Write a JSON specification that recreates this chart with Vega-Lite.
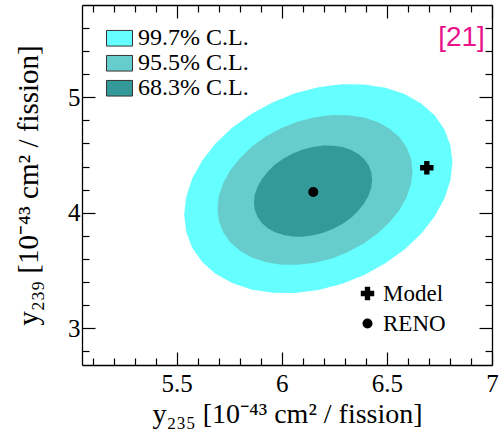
{
  "$schema": "https://vega.github.io/schema/vega-lite/v6.json",
  "width": 410,
  "height": 360,
  "autosize": "none",
  "padding": {"left": 82, "top": 5, "right": 12, "bottom": 74},
  "background": "white",
  "config": {
    "view": {"stroke": null},
    "font": "Liberation Serif",
    "axis": {"labelFont": "Liberation Serif", "titleFont": "Liberation Serif"},
    "legend": {"labelFont": "Liberation Serif"}
  },
  "datasets": {
    "ellipses": [
      {"cl": "99.7% C.L.", "x": 6.812, "lo": 4.436, "hi": 4.436},
      {"cl": "99.7% C.L.", "x": 6.802, "lo": 4.280, "hi": 4.585},
      {"cl": "99.7% C.L.", "x": 6.774, "lo": 4.122, "hi": 4.722},
      {"cl": "99.7% C.L.", "x": 6.727, "lo": 3.966, "hi": 4.844},
      {"cl": "99.7% C.L.", "x": 6.663, "lo": 3.818, "hi": 4.947},
      {"cl": "99.7% C.L.", "x": 6.584, "lo": 3.682, "hi": 5.028},
      {"cl": "99.7% C.L.", "x": 6.493, "lo": 3.562, "hi": 5.083},
      {"cl": "99.7% C.L.", "x": 6.392, "lo": 3.461, "hi": 5.112},
      {"cl": "99.7% C.L.", "x": 6.285, "lo": 3.383, "hi": 5.113},
      {"cl": "99.7% C.L.", "x": 6.174, "lo": 3.331, "hi": 5.087},
      {"cl": "99.7% C.L.", "x": 6.063, "lo": 3.305, "hi": 5.035},
      {"cl": "99.7% C.L.", "x": 5.956, "lo": 3.306, "hi": 4.956},
      {"cl": "99.7% C.L.", "x": 5.855, "lo": 3.335, "hi": 4.856},
      {"cl": "99.7% C.L.", "x": 5.764, "lo": 3.390, "hi": 4.736},
      {"cl": "99.7% C.L.", "x": 5.685, "lo": 3.471, "hi": 4.600},
      {"cl": "99.7% C.L.", "x": 5.622, "lo": 3.573, "hi": 4.452},
      {"cl": "99.7% C.L.", "x": 5.574, "lo": 3.696, "hi": 4.296},
      {"cl": "99.7% C.L.", "x": 5.546, "lo": 3.833, "hi": 4.138},
      {"cl": "99.7% C.L.", "x": 5.536, "lo": 3.982, "hi": 3.982},
      {"cl": "95.5% C.L.", "x": 6.622, "lo": 4.360, "hi": 4.360},
      {"cl": "95.5% C.L.", "x": 6.615, "lo": 4.248, "hi": 4.467},
      {"cl": "95.5% C.L.", "x": 6.594, "lo": 4.134, "hi": 4.566},
      {"cl": "95.5% C.L.", "x": 6.560, "lo": 4.023, "hi": 4.653},
      {"cl": "95.5% C.L.", "x": 6.513, "lo": 3.917, "hi": 4.727},
      {"cl": "95.5% C.L.", "x": 6.456, "lo": 3.819, "hi": 4.785},
      {"cl": "95.5% C.L.", "x": 6.390, "lo": 3.732, "hi": 4.824},
      {"cl": "95.5% C.L.", "x": 6.317, "lo": 3.661, "hi": 4.845},
      {"cl": "95.5% C.L.", "x": 6.239, "lo": 3.604, "hi": 4.846},
      {"cl": "95.5% C.L.", "x": 6.158, "lo": 3.567, "hi": 4.827},
      {"cl": "95.5% C.L.", "x": 6.077, "lo": 3.548, "hi": 4.790},
      {"cl": "95.5% C.L.", "x": 5.999, "lo": 3.549, "hi": 4.733},
      {"cl": "95.5% C.L.", "x": 5.926, "lo": 3.570, "hi": 4.662},
      {"cl": "95.5% C.L.", "x": 5.860, "lo": 3.609, "hi": 4.575},
      {"cl": "95.5% C.L.", "x": 5.803, "lo": 3.667, "hi": 4.477},
      {"cl": "95.5% C.L.", "x": 5.756, "lo": 3.741, "hi": 4.371},
      {"cl": "95.5% C.L.", "x": 5.722, "lo": 3.828, "hi": 4.260},
      {"cl": "95.5% C.L.", "x": 5.701, "lo": 3.928, "hi": 4.146},
      {"cl": "95.5% C.L.", "x": 5.694, "lo": 4.034, "hi": 4.034},
      {"cl": "68.3% C.L.", "x": 6.430, "lo": 4.286, "hi": 4.286},
      {"cl": "68.3% C.L.", "x": 6.426, "lo": 4.218, "hi": 4.351},
      {"cl": "68.3% C.L.", "x": 6.413, "lo": 4.149, "hi": 4.411},
      {"cl": "68.3% C.L.", "x": 6.392, "lo": 4.081, "hi": 4.465},
      {"cl": "68.3% C.L.", "x": 6.364, "lo": 4.017, "hi": 4.509},
      {"cl": "68.3% C.L.", "x": 6.330, "lo": 3.957, "hi": 4.544},
      {"cl": "68.3% C.L.", "x": 6.290, "lo": 3.905, "hi": 4.569},
      {"cl": "68.3% C.L.", "x": 6.245, "lo": 3.861, "hi": 4.581},
      {"cl": "68.3% C.L.", "x": 6.198, "lo": 3.826, "hi": 4.582},
      {"cl": "68.3% C.L.", "x": 6.149, "lo": 3.804, "hi": 4.570},
      {"cl": "68.3% C.L.", "x": 6.100, "lo": 3.792, "hi": 4.548},
      {"cl": "68.3% C.L.", "x": 6.053, "lo": 3.793, "hi": 4.513},
      {"cl": "68.3% C.L.", "x": 6.009, "lo": 3.806, "hi": 4.470},
      {"cl": "68.3% C.L.", "x": 5.968, "lo": 3.830, "hi": 4.418},
      {"cl": "68.3% C.L.", "x": 5.934, "lo": 3.865, "hi": 4.357},
      {"cl": "68.3% C.L.", "x": 5.906, "lo": 3.909, "hi": 4.293},
      {"cl": "68.3% C.L.", "x": 5.885, "lo": 3.963, "hi": 4.225},
      {"cl": "68.3% C.L.", "x": 5.872, "lo": 4.023, "hi": 4.157},
      {"cl": "68.3% C.L.", "x": 5.868, "lo": 4.088, "hi": 4.088}
    ],
    "points": [
      {"name": "Model", "x": 6.69, "y": 4.39},
      {"name": "RENO", "x": 6.15, "y": 4.18}
    ],
    "ref": [
      {"label": "[21]", "x": 6.966, "y": 5.445}
    ]
  },
  "layer": [
    {
      "data": {"name": "ellipses"},
      "transform": [{"filter": "datum.cl == '99.7% C.L.'"}],
      "mark": {"type": "area", "orient": "vertical", "opacity": 1},
      "encoding": {
        "x": {
          "field": "x", "type": "quantitative",
          "scale": {"domain": [5.05, 7.0], "nice": false, "zero": false},
          "axis": {
            "orient": "bottom",
            "values": [5.1, 5.2, 5.3, 5.4, 5.5, 5.6, 5.7, 5.8, 5.9, 6.0, 6.1, 6.2, 6.3, 6.4, 6.5, 6.6, 6.7, 6.8, 6.9, 7.0],
            "labelExpr": "abs(datum.value*2 - round(datum.value*2)) < 0.01 ? format(datum.value, '~g') : ''",
            "labelFont": "Liberation Serif", "labelFontSize": 25, "labelColor": "black",
            "labelFlush": false, "labelOverlap": false, "labelBound": false, "labelPadding": 19,
            "tickSize": {"condition": {"test": "abs(datum.value*2 - round(datum.value*2)) < 0.01", "value": -13}, "value": -7},
            "tickColor": "black", "tickWidth": 1.2,
            "domainColor": "black", "domainWidth": 1.3, "grid": false,
            "title": "y₂₃₅ [10⁻⁴³ cm² / fission]",
            "titleFont": "Liberation Serif", "titleFontSize": 28, "titleFontWeight": "normal", "titleColor": "black",
            "titleX": 205, "titleY": 57, "titleBaseline": "alphabetic", "titleAlign": "center"
          }
        },
        "y": {
          "field": "lo", "type": "quantitative",
          "scale": {"domain": [2.68, 5.8], "nice": false, "zero": false},
          "axis": {
            "orient": "left",
            "values": [2.8, 3.0, 3.2, 3.4, 3.6, 3.8, 4.0, 4.2, 4.4, 4.6, 4.8, 5.0, 5.2, 5.4, 5.6],
            "labelExpr": "abs(datum.value - round(datum.value)) < 0.01 ? format(datum.value, '~g') : ''",
            "labelFont": "Liberation Serif", "labelFontSize": 25, "labelColor": "black",
            "labelFlush": false, "labelOverlap": false, "labelBound": false, "labelPadding": 15,
            "tickSize": {"condition": {"test": "abs(datum.value - round(datum.value)) < 0.01", "value": -13}, "value": -7},
            "tickColor": "black", "tickWidth": 1.2,
            "domainColor": "black", "domainWidth": 1.3, "grid": false,
            "title": "y₂₃₉ [10⁻⁴³ cm² / fission]",
            "titleFont": "Liberation Serif", "titleFontSize": 29, "titleFontWeight": "normal", "titleColor": "black",
            "titleAngle": -90, "titleX": -45, "titleY": 180, "titleBaseline": "alphabetic", "titleAlign": "center"
          }
        },
        "y2": {"field": "hi"},
        "color": {
          "field": "cl", "type": "nominal",
          "scale": {"domain": ["99.7% C.L.", "95.5% C.L.", "68.3% C.L."], "range": ["#66ffff", "#66cccc", "#339999"]},
          "legend": {
            "orient": "none", "legendX": 24, "legendY": 22, "title": null, "padding": 0,
            "symbolType": "M-1,-0.6H1V0.6H-1Z", "symbolSize": 676,
            "symbolStrokeColor": "#333333", "symbolStrokeWidth": 1, "symbolOpacity": 1,
            "labelFont": "Liberation Serif", "labelFontSize": 24, "labelColor": "black",
            "labelOffset": 5, "rowPadding": 0, "clipHeight": 22.5
          }
        }
      }
    },
    {
      "data": {"name": "ellipses"},
      "transform": [{"filter": "datum.cl == '95.5% C.L.'"}],
      "mark": {"type": "area", "orient": "vertical", "opacity": 1},
      "encoding": {
        "x": {"field": "x", "type": "quantitative", "axis": null},
        "y": {"field": "lo", "type": "quantitative", "axis": null},
        "y2": {"field": "hi"},
        "color": {"field": "cl", "type": "nominal"}
      }
    },
    {
      "data": {"name": "ellipses"},
      "transform": [{"filter": "datum.cl == '68.3% C.L.'"}],
      "mark": {"type": "area", "orient": "vertical", "opacity": 1},
      "encoding": {
        "x": {"field": "x", "type": "quantitative", "axis": null},
        "y": {"field": "lo", "type": "quantitative", "axis": null},
        "y2": {"field": "hi"},
        "color": {"field": "cl", "type": "nominal"}
      }
    },
    {
      "data": {"name": "points"},
      "mark": {"type": "point", "filled": true, "opacity": 1, "color": "black", "strokeWidth": 0},
      "encoding": {
        "x": {
          "field": "x", "type": "quantitative",
          "axis": {
            "orient": "top",
            "values": [5.1, 5.2, 5.3, 5.4, 5.5, 5.6, 5.7, 5.8, 5.9, 6.0, 6.1, 6.2, 6.3, 6.4, 6.5, 6.6, 6.7, 6.8, 6.9, 7.0],
            "labels": false, "title": null,
            "tickSize": {"condition": {"test": "abs(datum.value*2 - round(datum.value*2)) < 0.01", "value": -13}, "value": -7},
            "tickColor": "black", "tickWidth": 1.2,
            "domainColor": "black", "domainWidth": 1.3, "grid": false
          }
        },
        "y": {
          "field": "y", "type": "quantitative",
          "axis": {
            "orient": "right",
            "values": [2.8, 3.0, 3.2, 3.4, 3.6, 3.8, 4.0, 4.2, 4.4, 4.6, 4.8, 5.0, 5.2, 5.4, 5.6],
            "labels": false, "title": null,
            "tickSize": {"condition": {"test": "abs(datum.value - round(datum.value)) < 0.01", "value": -13}, "value": -7},
            "tickColor": "black", "tickWidth": 1.2,
            "domainColor": "black", "domainWidth": 1.3, "grid": false
          }
        },
        "shape": {
          "field": "name", "type": "nominal",
          "scale": {"domain": ["Model", "RENO"], "range": ["cross", "circle"]},
          "legend": {
            "orient": "none", "legendX": 274, "legendY": 277, "title": null, "padding": 0,
            "symbolFillColor": "black", "symbolStrokeWidth": 0, "symbolOpacity": 1,
            "labelFont": "Liberation Serif", "labelFontSize": 23, "labelColor": "black",
            "labelOffset": 4, "rowPadding": 6
          }
        },
        "size": {
          "field": "name", "type": "nominal",
          "scale": {"domain": ["Model", "RENO"], "range": [180, 100]},
          "legend": {
            "orient": "none", "legendX": 274, "legendY": 277, "title": null, "padding": 0,
            "symbolFillColor": "black", "symbolStrokeWidth": 0, "symbolOpacity": 1,
            "labelFont": "Liberation Serif", "labelFontSize": 23, "labelColor": "black",
            "labelOffset": 4, "rowPadding": 6
          }
        }
      }
    },
    {
      "data": {"name": "ref"},
      "mark": {"type": "text", "align": "right", "baseline": "alphabetic", "font": "Liberation Sans", "fontSize": 28, "color": "#e8138a"},
      "encoding": {
        "x": {"field": "x", "type": "quantitative", "axis": null},
        "y": {"field": "y", "type": "quantitative", "axis": null},
        "text": {"field": "label"}
      }
    }
  ],
  "resolve": {"axis": {"x": "independent", "y": "independent"}}
}
